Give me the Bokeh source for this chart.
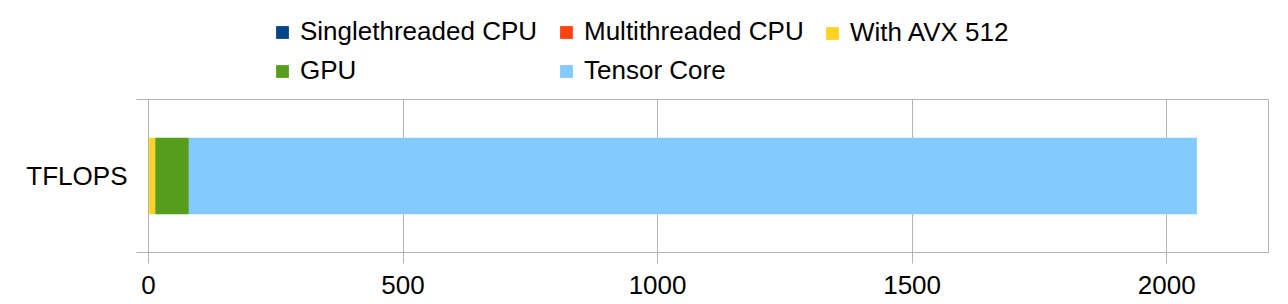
from bokeh.plotting import figure
from bokeh.layouts import column
from bokeh.models import Range1d, FixedTicker, Legend, LegendItem, ColumnDataSource
from bokeh.embed import file_html
from bokeh.resources import INLINE

# ---- data ----
categories = ["TFLOPS"]
series = ["Singlethreaded CPU", "Multithreaded CPU", "With AVX 512", "GPU", "Tensor Core"]
single_cpu = [0.1]
multi_cpu = [1.2]
avx512 = [12]
gpu = [66]
tensor_core = [1980]
colors = ["#004586", "#ff420e", "#ffd320", "#579d1c", "#83caff"]
x_ticks = [0, 500, 1000, 1500, 2000]
x_max = 2200
watermark = "掘金技术社区 @ 阿里云大数据AI技术"

keys = ["single", "multi", "avx", "gpu", "tensor"]
ypos = [i + 0.5 for i in range(len(categories))]
bounds = [i for i in range(len(categories) + 1)]
source = ColumnDataSource(dict(y=ypos, single=single_cpu, multi=multi_cpu,
                               avx=avx512, gpu=gpu, tensor=tensor_core))

FONT = "Liberation Sans"
GRID = "#b3b3b3"
TOP_H = 95
W = 1288

# ---------- main chart ----------
p = figure(width=W, height=304 - TOP_H, x_range=Range1d(0, x_max),
           y_range=Range1d(0, len(categories)),
           output_backend="svg", toolbar_location=None,
           min_border_left=148, min_border_right=20,
           min_border_top=4, min_border_bottom=52,
           background_fill_color="white", border_fill_color="white",
           outline_line_color=GRID)

rs = p.hbar_stack(keys, y="y", height=0.5, color=colors, line_color=None, source=source)

xa = p.xaxis[0]
xa.ticker = FixedTicker(ticks=x_ticks)
xa.axis_line_color = GRID
xa.major_tick_line_color = GRID
xa.major_tick_out = 11
xa.major_tick_in = 0
xa.minor_tick_line_color = None
xa.major_label_text_font = FONT
xa.major_label_text_font_size = "26px"
xa.major_label_text_color = "#000000"
xa.major_label_standoff = 12
# watermark, drawn as the axis label overlapping the tick labels;
# ideographic spaces push it to the lower right corner
xa.axis_label = "\u3000" * 131 + watermark
xa.axis_label_text_font = "Noto Sans CJK SC"
xa.axis_label_text_font_size = "24px"
xa.axis_label_text_font_style = "normal"
xa.axis_label_standoff = -37
xa.axis_label_align = "start"
if "axis_label_text_outline_color" in xa.properties():
    xa.axis_label_text_color = "#f2f2f2"
    xa.axis_label_text_outline_color = "#6e6e6e"
else:
    xa.axis_label_text_color = "#8a8a8a"
p.xgrid.ticker = FixedTicker(ticks=x_ticks)
p.xgrid.grid_line_color = GRID

p.yaxis.ticker = FixedTicker(ticks=ypos, minor_ticks=bounds)
p.yaxis.axis_line_color = GRID
p.yaxis.major_tick_out = 0
p.yaxis.major_tick_in = 0
p.yaxis.major_tick_line_color = None
p.yaxis.minor_tick_out = 12
p.yaxis.minor_tick_in = 0
p.yaxis.minor_tick_line_color = GRID
p.yaxis.major_label_overrides = {y: c for y, c in zip(ypos, categories)}
p.yaxis.major_label_text_font = FONT
p.yaxis.major_label_text_font_size = "26px"
p.yaxis.major_label_text_color = "#000000"
p.yaxis.major_label_standoff = 9
p.ygrid.visible = False

# ---------- legend strip ----------
# same stacked series, kept outside this strip's view so only the legend shows
lg = figure(width=W, height=TOP_H, x_range=Range1d(5000, 6000), y_range=Range1d(5, 6),
            output_backend="svg", toolbar_location=None,
            x_axis_location=None, y_axis_location=None,
            min_border_left=0, min_border_right=0, min_border_top=0, min_border_bottom=0,
            background_fill_color="white", border_fill_color="white",
            outline_line_color=None)
lg.grid.visible = False
lrs = lg.hbar_stack(keys, y="y", height=0.5, color=colors, line_color=None, source=source)

legend_cols = [(126, [0, 3]), (410, [1, 4]), (676, [2])]
for x0, idx in legend_cols:
    its = [LegendItem(label=series[i], renderers=[lrs[i]]) for i in idx]
    n = len(idx)
    bottom = 18 + n * 30 + (n - 1) * 8
    lg.add_layout(Legend(items=its, location=(x0, TOP_H - bottom),
                         label_text_font=FONT, label_text_font_size="26px",
                         label_text_color="#000000", label_height=30,
                         glyph_width=16, glyph_height=16, label_standoff=10,
                         spacing=8, padding=0, margin=0,
                         border_line_color=None, background_fill_alpha=0), "center")

layout = column(lg, p)
open("out.html", "w").write(file_html(layout, INLINE))
